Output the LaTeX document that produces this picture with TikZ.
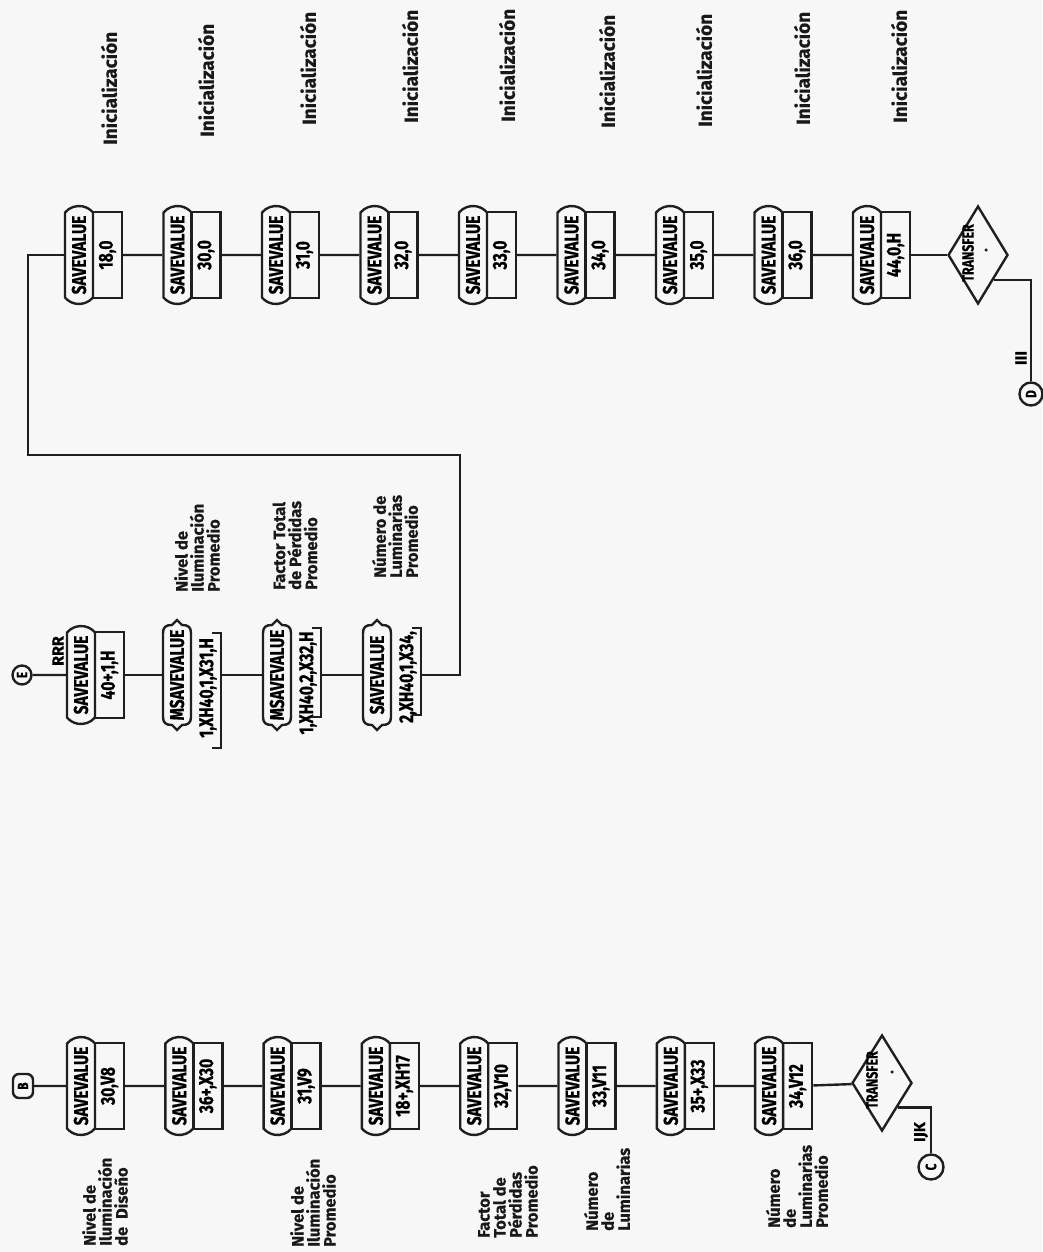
\documentclass[tikz,border=0pt]{standalone}
\usepackage{fontspec}
\setmainfont{Fira Sans}
\newfontfamily\bxf[FakeStretch=0.78,FakeBold=0.6]{Fira Sans}
\newfontfamily\lbf[FakeBold=0.5]{Fira Sans}
\usetikzlibrary{shapes.misc,shapes.geometric,calc}
\tikzset{
 ln/.style={line width=2.4pt, draw=black!88},
 bxfont/.style={font=\bxf\bfseries\fontsize{20}{22}\selectfont},
 svn/.style={ln, bxfont, rotate=90, shape=rounded rectangle, rounded rectangle arc length=100,
   minimum width=98, minimum height=28, inner sep=0pt},
 opn/.style={ln, bxfont, rotate=90, rectangle, minimum width=86, minimum height=29, inner sep=0pt},
 msvtxt/.style={bxfont, rotate=90, inner sep=0pt, minimum width=98, minimum height=28},
 optxt/.style={bxfont, rotate=90, inner sep=0pt},
 lbl/.style={rotate=90, anchor=west, align=left, inner sep=0pt, text=black!90,
   font=\lbf\bfseries\fontsize{16.5}{16}\selectfont},
 ini/.style={lbl, font=\lbf\bfseries\fontsize{19}{20}\selectfont},
 conn/.style={ln, circle, rotate=90, inner sep=0pt, minimum size=23,
   font=\bxf\bfseries\fontsize{15}{15}\selectfont},
 trn/.style={ln, diamond, minimum width=60, minimum height=98, inner sep=0pt},
 trtxt/.style={rotate=90, inner sep=0pt, font=\bxf\bfseries\fontsize{16}{16}\selectfont},
 dotn/.style={circle, fill=black!88, inner sep=0pt, minimum size=3.5pt},
 small/.style={rotate=90, inner sep=0pt, font=\lbf\bfseries\fontsize{16}{16}\selectfont}
}
% plain SAVEVALUE block: name, left x, row y, operand
\newcommand\svblk[4]{%
 \begin{scope}[shift={(#2,#3)}]
  \node[svn] (#1) at (14,0) {SAVEVALUE};
  \node[opn] (#1o) at (42.5,0) {#4};
 \end{scope}}
% brace-ended block: name, left x, row y, top text, operand, operand y offset, bracket top, bracket bottom
\newcommand\msvblk[8]{%
 \begin{scope}[shift={(#2,#3)}]
  \draw[ln] (0,-42) -- (0,42) .. controls (0,48) and (3,50) .. (9,50) -- (14,55) -- (19,50)
    .. controls (25,50) and (28,48) .. (28,42) -- (28,-42) .. controls (28,-48) and (25,-50) .. (19,-50)
    -- (14,-55) -- (9,-50) .. controls (3,-50) and (0,-48) .. (0,-42) -- cycle;
  \node[msvtxt] (#1) at (14,0) {#4};
  \node[optxt] (#1o) at (45,#6) {#5};
  \draw[ln] (49,#7) -- (58,#7) -- (58,#8) -- (49,#8);
  \coordinate (#1r) at (58,0);
 \end{scope}}

\begin{document}
\begin{tikzpicture}[x=1pt,y=-1pt]
\useasboundingbox (0,0) rectangle (1042,1252);
\fill[white!97!black] (0,0) rectangle (1042,1252);

% ---------------- Row 1 (top) ----------------
\svblk{a1}{65}{255}{18,0}
\svblk{a2}{163.5}{255}{30,0}
\svblk{a3}{262}{255}{31,0}
\svblk{a4}{360.5}{255}{32,0}
\svblk{a5}{459}{255}{33,0}
\svblk{a6}{557.5}{255}{34,0}
\svblk{a7}{656}{255}{35,0}
\svblk{a8}{754.5}{255}{36,0}
\svblk{a9}{853}{255}{44,0,H}
\node[trn] (ta) at (978,255) {};
\node[trtxt] (tat) at (968,253) {TRANSFER};
\node[dotn] (tad) at (986,250) {};
\node[conn] (dD) at (1031,394) {D};
\node[small] (lIII) at (1021,358) {III};

\node[ini] (i1) at (109,145) {Inicialización};
\node[ini] (i2) at (206,137) {Inicialización};
\node[ini] (i3) at (308,125) {Inicialización};
\node[ini] (i4) at (410,123) {Inicialización};
\node[ini] (i5) at (507,122) {Inicialización};
\node[ini] (i6) at (607,128) {Inicialización};
\node[ini] (i7) at (704,127) {Inicialización};
\node[ini] (i8) at (802,125) {Inicialización};
\node[ini] (i9) at (899,123) {Inicialización};

\draw[ln] (a1o) -- (a2);
\draw[ln] (a2o) -- (a3);
\draw[ln] (a3o) -- (a4);
\draw[ln] (a4o) -- (a5);
\draw[ln] (a5o) -- (a6);
\draw[ln] (a6o) -- (a7);
\draw[ln] (a7o) -- (a8);
\draw[ln] (a8o) -- (a9);
\draw[ln] (a9o) -- (ta);
\draw[ln] (ta.south east) -| (dD);

% ---------------- Row 2 (middle) ----------------
\node[conn, minimum size=19] (dE) at (22,675) {E};
\node[small] (lRRR) at (58,651) {RRR};
\svblk{b1}{67}{675}{40+,1,H}
\msvblk{b2}{163}{675}{MSAVEVALUE}{1,XH40,1,X31,H}{13}{-42}{73}
\msvblk{b3}{263}{675}{MSAVEVALUE}{1,XH40,2,X32,H}{8}{-47}{42}
\msvblk{b4}{363}{675}{SAVEVALUE}{2,XH40,1,X34,}{2}{-47}{40}

\node[lbl] (nb2) at (197,592) {Nivel de\\Iluminación\\Promedio};
\node[lbl] (nb3) at (295,590) {Factor Total\\de Pérdidas\\Promedio};
\node[lbl] (nb4) at (395,578) {Número de\\Luminarias\\Promedio};

\coordinate (k1) at (460,455);
\coordinate (k2) at (28,455);
\draw[ln] (dE) -- (b1);
\draw[ln] (b1o) -- (b2);
\draw[ln] (b2r) -- (b3);
\draw[ln] (b3r) -- (b4);
\draw[ln] (b4r) -| (k1) -- (k2) |- (a1);

% ---------------- Row 3 (bottom) ----------------
\node[ln, rectangle, rounded corners=6pt, rotate=90, minimum width=24, minimum height=20, inner sep=0pt,
  font=\bxf\bfseries\fontsize{15}{15}\selectfont] (dB) at (23,1086) {B};
\svblk{c1}{67}{1086}{30,V8}
\svblk{c2}{165.3}{1086}{36+,X30}
\svblk{c3}{263.6}{1086}{31,V9}
\svblk{c4}{361.9}{1086}{18+,XH17}
\svblk{c5}{460.2}{1086}{32,V10}
\svblk{c6}{558.5}{1086}{33,V11}
\svblk{c7}{656.8}{1086}{35+,X33}
\svblk{c8}{755.1}{1086}{34,V12}
\node[trn, minimum height=96] (tb) at (882,1083) {};
\node[trtxt] (tbt) at (872,1080) {TRANSFER};
\node[dotn] (tbd) at (892,1072) {};
\node[conn, minimum size=25] (dC) at (931,1167) {C};
\node[small] (lIJK) at (921,1132) {IJK};

\node[lbl] (nc1) at (105,1246) {Nivel de\\Iluminación\\de\ \ Diseño};
\node[lbl] (nc3) at (313,1247) {Nivel de\\Iluminación\\Promedio};
\node[lbl] (nc5) at (508,1238) {Factor\\Total de\\Pérdidas\\Promedio};
\node[lbl] (nc6) at (607,1231) {Número\\de\\Luminarias};
\node[lbl] (nc8) at (797,1228) {Número\\de\\Luminarias\\Promedio};

\draw[ln] (dB) -- (c1);
\draw[ln] (c1o) -- (c2);
\draw[ln] (c2o) -- (c3);
\draw[ln] (c3o) -- (c4);
\draw[ln] (c4o) -- (c5);
\draw[ln] (c5o) -- (c6);
\draw[ln] (c6o) -- (c7);
\draw[ln] (c7o) -- (c8);
\draw[ln] (c8o) -- (tb);
\draw[ln] (tb.south east) -| (dC);
\end{tikzpicture}
\end{document}
